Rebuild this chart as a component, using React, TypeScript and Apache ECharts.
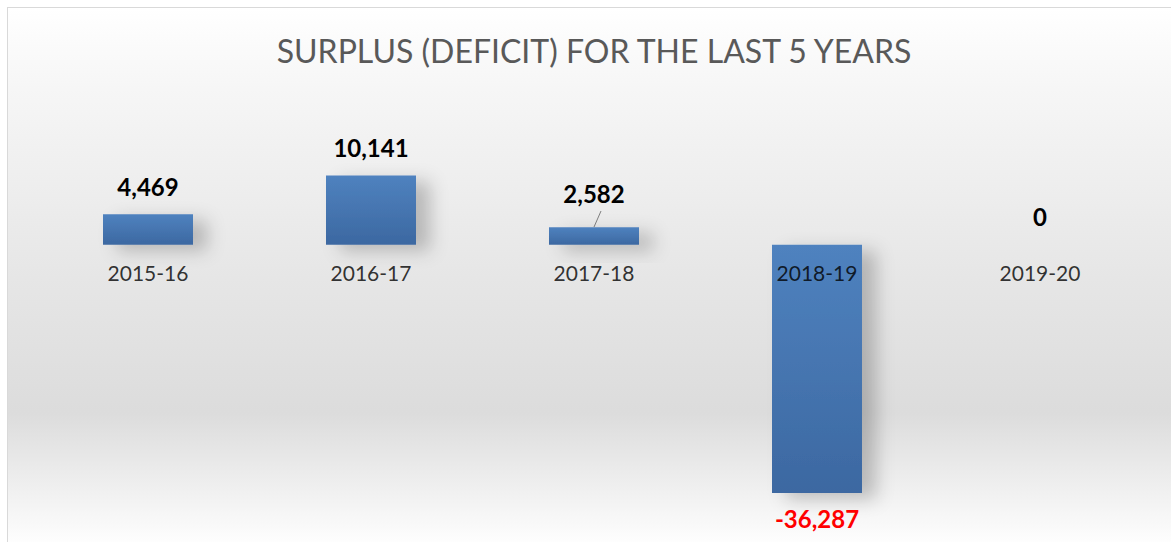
import React, { useEffect, useRef } from "react";
import * as echarts from "echarts";

const categories = ["2015-16", "2016-17", "2017-18", "2018-19", "2019-20"];
const values = [4469, 10141, 2582, -36287, 0];
const titleText = "SURPLUS (DEFICIT) FOR THE LAST 5 YEARS";

export default function App() {
  const ref = useRef<HTMLDivElement>(null);
  useEffect(() => {
    if (!ref.current) return;
    const chart = echarts.init(ref.current, null, { renderer: "svg" });
    const fmt = (v: number) => v.toLocaleString("en-US");
    const barColor = new echarts.graphic.LinearGradient(0, 0, 0, 1, [
      { offset: 0, color: "#4f82bf" },
      { offset: 1, color: "#3c68a1" },
    ]);
    chart.setOption({
      animation: false,
      backgroundColor: new echarts.graphic.LinearGradient(0, 0, 0, 1, [
        { offset: 0, color: "#ffffff" },
        { offset: 0.15, color: "#f6f6f6" },
        { offset: 0.5, color: "#e6e6e6" },
        { offset: 0.75, color: "#dcdcdc" },
        { offset: 1, color: "#ffffff" },
      ]),
      title: {
        text: titleText,
        left: "center",
        top: 21,
        textStyle: {
          fontFamily: "Lato",
          fontWeight: "normal",
          fontSize: 32,
          color: "#595959",
        },
      },
      grid: { left: 28.5, width: 1115, top: 134.2, height: 376.2, containLabel: false },
      xAxis: {
        type: "category",
        data: categories,
        axisLine: { show: false },
        axisTick: { show: false },
        axisLabel: { show: false },
      },
      yAxis: {
        type: "value",
        min: -40000,
        max: 15000,
        show: false,
        splitLine: { show: false },
      },
      series: [
        {
          type: "bar",
          barWidth: 90,
          data: values.map((v, i) => ({
            value: v,
            label:
              v < 0
                ? { position: "bottom", color: "#ff0000", distance: 13 }
                : i === 2
                ? { distance: 22 }
                : {},
          })),
          itemStyle: {
            color: barColor,
            shadowColor: "rgba(0,0,0,0.22)",
            shadowBlur: 18,
            shadowOffsetX: 14,
            shadowOffsetY: 6,
          },
          label: {
            show: true,
            position: "top",
            distance: 16,
            formatter: (p: any) => fmt(p.value),
            fontFamily: "Lato",
            fontWeight: "bold",
            fontSize: 24,
            color: "#000",
          },
          z: 2,
        },
        {
          type: "scatter",
          symbolSize: 0,
          silent: true,
          data: categories.map((c) => [c, 0]),
          label: {
            show: true,
            position: "bottom",
            distance: 17,
            formatter: (p: any) => p.name || p.value[0],
            fontFamily: "Lato",
            fontSize: 21,
            color: "#000",
          },
          z: 5,
        },
      ],
      graphic: [
        {
          type: "line",
          shape: { x1: 586, y1: 219, x2: 593, y2: 203 },
          style: { stroke: "#7f7f7f", lineWidth: 1 },
        },
      ],
    });
    return () => chart.dispose();
  }, []);
  return (
    <div
      ref={ref}
      style={{
        position: "fixed",
        left: 7,
        top: 7,
        width: 1172,
        height: 540,
        border: "1px solid #d9d9d9",
      }}
    />
  );
}
